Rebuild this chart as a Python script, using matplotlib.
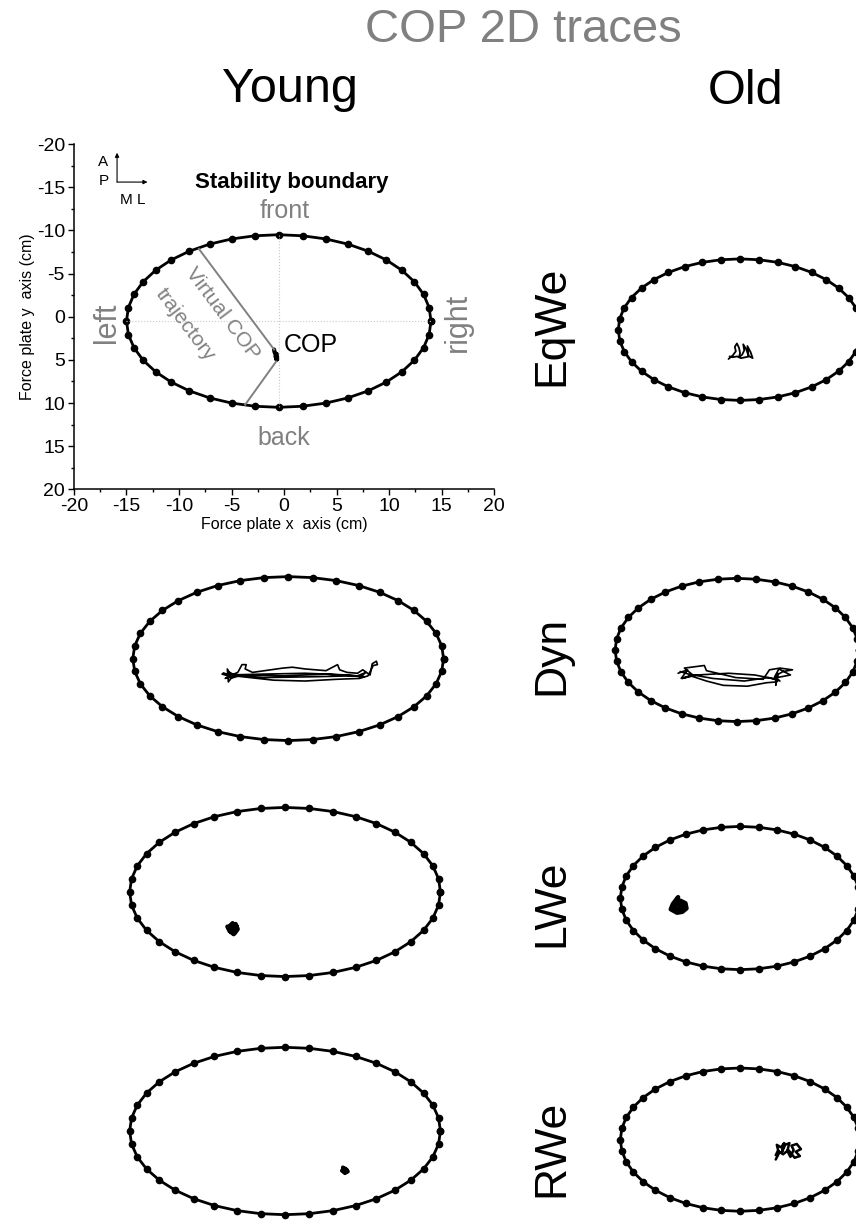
import numpy as np
import matplotlib
matplotlib.use('Agg')
import matplotlib.pyplot as plt
from matplotlib.ticker import MultipleLocator

plt.rcParams['font.family'] = ['Liberation Sans', 'DejaVu Sans']
plt.rcParams['axes.unicode_minus'] = False

# stability boundary (ellipse) for each panel: centre and half-axes, in cm
# order: Young EqWe, Old EqWe, Young Dyn, Old Dyn, Young LWe, Old LWe, Young RWe, Old RWe
bnd_cx = [-0.5, 0.1, 0.4, -0.2, 0.1, 0.1, 0.1, 0.1]
bnd_cy = [0.5, 1.5, 0.3, -0.7, 0.0, 0.7, 0.0, 1.0]
bnd_rx = [14.5, 11.6, 14.8, 11.6, 14.8, 11.4, 14.8, 11.4]
bnd_ry = [10.0, 8.2, 9.5, 8.3, 9.8, 8.3, 9.7, 8.3]
n_dots = 40

# COP traces (cm)
cop_x = [
    [-0.95, -0.9, -0.8, -0.75, -0.7, -0.8, -0.65, -0.7],
    [-1.0, -0.6, -0.3, -0.4, -0.2, 0.0, 0.1, 0.0, 0.3, 0.5, 0.4, 0.7, 0.9, 0.8, 1.1, 1.3,
     1.0, 0.6, 0.2, -0.2, -0.6, -0.9],
    [-5.9, -5.0, -5.4, -5.3, -4.8, -5.6, -5.2, -4.4, -4.0, -3.6, -3.7, -3.0, -0.1, 0.8, 2.0,
     4.0, 5.1, 5.3, 6.0, 7.0, 7.5, 8.2, 8.4, 8.8, 8.9, 8.5, 8.0, 7.2, 5.0, 2.0, -1.0, -4.0,
     -5.5, -2.0, 2.0, 6.0, 7.6, 6.5, 3.0, -2.0, -5.0, -5.8, -4.6, -5.3, -5.1, -4.0, 0.0,
     4.0, 7.0, 7.8, 7.2],
    [-5.8, -4.9, -5.5, -4.4, -5.2, -3.3, -3.1, -0.3, 2.3, 2.9, 3.9, 5.1, 4.2, 3.6, 3.5,
     3.7, 3.6, 2.6, 0.8, -1.5, -3.1, -4.6, -5.4, -4.0, -1.0, 1.5, 3.2, 4.9, 3.8, 3.4,
     3.9, 2.8, 0.5, -2.5, -4.8, -5.6],
    [-4.9, -4.6, -4.4, -4.7, -5.1, -5.3, -4.9, -4.5, -4.8, -5.2, -5.4, -4.8, -4.5],
    [-5.6, -5.1, -5.0, -5.4, -5.9, -6.5, -6.3, -5.8, -6.0, -5.6, -5.2, -5.7, -6.2, -5.9],
    [5.6, 5.9, 6.1, 5.8, 5.5, 5.7, 6.0, 5.8, 5.6, 5.9],
    [3.5, 3.8, 3.6, 4.0, 4.3, 4.1, 4.4, 4.8, 4.6, 4.9, 5.2, 5.0, 5.5, 5.9, 5.4, 5.8, 5.3,
     4.7, 4.2, 3.7, 3.5],
]
cop_y = [
    [3.8, 4.1, 4.4, 4.7, 5.0, 4.6, 4.9, 4.3],
    [4.9, 4.5, 4.0, 3.5, 3.1, 3.6, 4.2, 4.7, 4.4, 3.9, 3.2, 3.8, 4.5, 3.4, 4.1, 4.8,
     4.6, 4.7, 4.8, 4.6, 4.7, 4.6],
    [2.1, 2.4, 1.5, 3.0, 2.2, 2.6, 2.3, 1.9, 1.0, 1.0, 1.5, 1.9, 1.4, 1.3, 1.5,
     1.7, 1.0, 1.6, 1.9, 2.0, 1.6, 2.2, 0.9, 0.6, 1.0, 1.1, 2.3, 2.6, 2.7, 2.9, 2.8, 2.4,
     2.2, 2.1, 2.0, 2.2, 2.4, 2.3, 2.4, 2.5, 2.2, 2.0, 2.3, 1.8, 2.6, 2.2, 2.3,
     2.1, 2.3, 1.9, 2.5],
    [2.0, 1.6, 2.6, 2.2, 1.4, 1.1, 1.7, 2.5, 2.7, 1.6, 1.4, 1.6, 1.8, 2.2, 3.4,
     2.0, 3.0, 3.1, 3.5, 3.4, 2.9, 2.3, 2.6, 2.2, 2.0, 2.2, 2.6, 2.2, 1.5, 2.4,
     2.9, 2.5, 2.9, 2.6, 2.1, 1.8],
    [4.2, 3.7, 4.3, 4.8, 4.6, 4.1, 3.6, 4.0, 4.9, 4.5, 4.0, 4.4, 4.2],
    [1.0, 1.3, 1.9, 2.3, 2.4, 2.0, 1.4, 0.6, 1.1, 1.6, 1.5, 2.1, 1.7, 1.2],
    [4.2, 4.4, 4.7, 4.9, 4.6, 4.3, 4.5, 4.8, 4.4, 4.6],
    [3.3, 2.6, 1.6, 1.9, 1.4, 2.4, 1.6, 1.4, 2.3, 3.0, 2.2, 1.7, 1.5, 2.1, 2.4, 2.9, 3.1,
     2.2, 2.7, 2.3, 2.8],
]
cop_lw = [3.0, 1.3, 1.2, 1.2, 3.0, 3.2, 2.6, 1.8]

# virtual COP trajectory in the example panel
virt_x = [[-8.1, -0.95], [-0.75, -3.7]]
virt_y = [[-7.85, 3.8], [5.2, 10.2]]

col_titles = ['Young', 'Old']
row_titles = ['EqWe', 'Dyn', 'LWe', 'RWe']

W, H = 856, 1222
fig = plt.figure(figsize=(W / 100, H / 100), dpi=100)

col_left = [74, 529]          # pixel of x = -20
row_zero = [316.7, 656, 892, 1131]   # pixel of y = 0
ax_w, ax_h = 420, 345.2

gray = '#808080'

for i in range(8):
    r, c = i // 2, i % 2
    bottom = 1 - (row_zero[r] + ax_h / 2) / H
    ax = fig.add_axes([col_left[c] / W, bottom, ax_w / W, ax_h / H])
    ax.set_xlim(-20, 20)
    ax.set_ylim(20, -20)

    t = np.linspace(0, 2 * np.pi, n_dots + 1)
    ex = bnd_cx[i] + bnd_rx[i] * np.cos(t)
    ey = bnd_cy[i] + bnd_ry[i] * np.sin(t)
    ax.plot(ex, ey, '-o', color='black', lw=2, ms=4.5, clip_on=False)

    ax.plot(cop_x[i], cop_y[i], color='black', lw=cop_lw[i], clip_on=False,
            solid_joinstyle='round', solid_capstyle='round')

    if i == 0:
        # example panel with axes and annotations
        ax.plot([bnd_cx[0], bnd_cx[0]], [bnd_cy[0] - bnd_ry[0], bnd_cy[0] + bnd_ry[0]],
                ls=':', color='#c8c8c8', lw=0.8)
        ax.plot([bnd_cx[0] - bnd_rx[0], bnd_cx[0] + bnd_rx[0]], [bnd_cy[0], bnd_cy[0]],
                ls=':', color='#c8c8c8', lw=0.8)
        for vx, vy in zip(virt_x, virt_y):
            ax.plot(vx, vy, color=gray, lw=1.4)
        ax.text(0.7, -15.5, 'Stability boundary', fontsize=16, fontweight='bold',
                ha='center', va='center')
        ax.text(0.1, -12.2, 'front', fontsize=18, color=gray, ha='center', va='center')
        ax.text(0.0, 14.1, 'back', fontsize=18, color=gray, ha='center', va='center')
        ax.text(-16.9, 0.7, 'left', fontsize=22, color=gray, rotation=90,
                ha='center', va='center')
        ax.text(16.6, 0.6, 'right', fontsize=22, color=gray, rotation=90,
                ha='center', va='center')
        ax.text(2.6, 3.3, 'COP', fontsize=18, ha='center', va='center')
        ax.text(-5.9, -0.4, 'Virtual COP', fontsize=15, color=gray, rotation=-53,
                ha='center', va='center', rotation_mode='anchor')
        ax.text(-9.4, 0.95, 'trajectory', fontsize=15, color=gray, rotation=-53,
                ha='center', va='center', rotation_mode='anchor')
        # orientation sketch
        ax.annotate('', xy=(-15.9, -19.0), xytext=(-15.9, -15.6),
                    arrowprops=dict(arrowstyle='-|>', color='black', lw=0.8,
                                    mutation_scale=6, shrinkA=0, shrinkB=0))
        ax.annotate('', xy=(-13.0, -15.6), xytext=(-15.9, -15.6),
                    arrowprops=dict(arrowstyle='-|>', color='black', lw=0.8,
                                    mutation_scale=6, shrinkA=0, shrinkB=0))
        ax.text(-17.2, -17.9, 'A', fontsize=11, ha='center', va='center')
        ax.text(-17.2, -15.7, 'P', fontsize=11, ha='center', va='center')
        ax.text(-14.4, -13.5, 'M L', fontsize=11, ha='center', va='center')

        ax.spines['top'].set_visible(False)
        ax.spines['right'].set_visible(False)
        for s in ['left', 'bottom']:
            ax.spines[s].set_linewidth(1.1)
        ax.xaxis.set_major_locator(MultipleLocator(5))
        ax.yaxis.set_major_locator(MultipleLocator(5))
        ax.xaxis.set_minor_locator(MultipleLocator(2.5))
        ax.yaxis.set_minor_locator(MultipleLocator(2.5))
        ax.tick_params(which='major', length=4.5, width=1.0, labelsize=14, pad=2)
        ax.tick_params(which='minor', length=2.5, width=1.0)
        ax.set_xlabel('Force plate x  axis (cm)', fontsize=11.5, labelpad=1)
        ax.set_ylabel('Force plate y  axis (cm)', fontsize=11.5, labelpad=1)
        ax.patch.set_alpha(0)
    else:
        ax.axis('off')

fig.text(523 / W, 1 - 30 / H, 'COP 2D traces', fontsize=34, color=gray,
         ha='center', va='center')
fig.text(290 / W, 1 - 90 / H, col_titles[0], fontsize=35, ha='center', va='center')
fig.text(746 / W, 1 - 92 / H, col_titles[1], fontsize=35, ha='center', va='center')
row_lab_y = [326, 655, 903, 1148]
for name, yy in zip(row_titles, row_lab_y):
    fig.text(552 / W, 1 - yy / H, name, fontsize=32, rotation=90,
             ha='center', va='center')

fig.savefig('out.png', dpi=100)
